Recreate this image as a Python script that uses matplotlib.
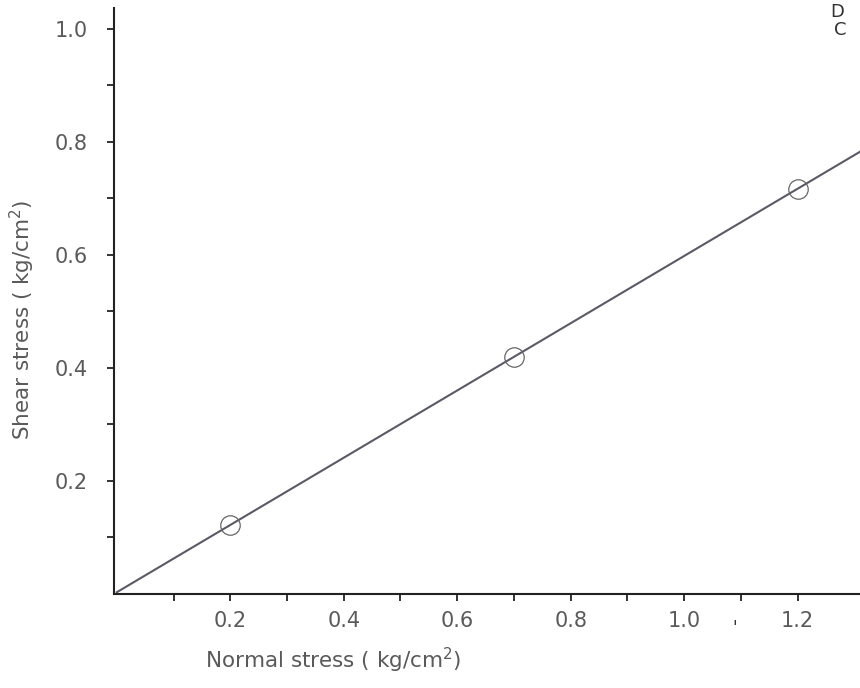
#!/usr/bin/env python3
"""Shear stress vs normal stress (direct shear test) with linear fit."""

import matplotlib
matplotlib.use("Agg")
import matplotlib.pyplot as plt
import matplotlib.ticker as ticker
import numpy as np

# data
normal_stress = [0.2, 0.7, 1.2]
shear_stress = [0.122, 0.42, 0.717]
x_tick_labels = ["0.2", "0.4", "0.6", "0.8", "1.0", "1.2"]
y_tick_labels = ["0.2", "0.4", "0.6", "0.8", "1.0"]

TEXT = "#5a5a5a"
LINE = "#5a5a66"

plt.rcParams["font.family"] = ["DejaVu Sans"]

fig = plt.figure(figsize=(8.6, 6.88), dpi=100)
ax = fig.add_axes([114 / 860, 94 / 688, 1 - 114 / 860, (594 - 8) / 688])

slope, intercept = np.polyfit(normal_stress, shear_stress, 1)
x_max = 1.31
xs = np.array([0.0, x_max])
ax.plot(xs, intercept + slope * xs, color=LINE, linewidth=1.5, zorder=2)
ax.plot(normal_stress, shear_stress, linestyle="none", marker="o", markersize=14,
        markerfacecolor="none", markeredgecolor="#666666", markeredgewidth=0.9, zorder=3)

ax.set_xlim(-0.005, x_max)
ax.set_ylim(0, 1.037)

ax.xaxis.set_major_locator(ticker.FixedLocator([0.2, 0.4, 0.6, 0.8, 1.0, 1.2]))
ax.xaxis.set_major_formatter(ticker.FixedFormatter(x_tick_labels))
ax.xaxis.set_minor_locator(ticker.FixedLocator([0.1, 0.3, 0.5, 0.7, 0.9, 1.1]))
ax.yaxis.set_major_locator(ticker.FixedLocator([0.2, 0.4, 0.6, 0.8, 1.0]))
ax.yaxis.set_major_formatter(ticker.FixedFormatter(y_tick_labels))
ax.yaxis.set_minor_locator(ticker.FixedLocator([0.1, 0.3, 0.5, 0.7, 0.9]))

ax.tick_params(which="both", direction="out", length=5, width=1.3, color="#222222")
ax.tick_params(axis="x", which="major", labelsize=15, labelcolor=TEXT, pad=7)
ax.tick_params(axis="y", which="major", labelsize=15, labelcolor=TEXT, pad=14)

for side in ("top", "right"):
    ax.spines[side].set_visible(False)
for side in ("left", "bottom"):
    ax.spines[side].set_linewidth(1.5)
    ax.spines[side].set_color("#222222")

ax.set_xlabel("Normal stress ( kg/cm$^2$)", fontsize=15.5, color=TEXT)
ax.xaxis.set_label_coords((333 - 114) / (860 - 114), -0.113)
ax.xaxis.label.set_va("center")
ax.set_ylabel("Shear stress ( kg/cm$^2$)", fontsize=15.5, color=TEXT)
ax.yaxis.set_label_coords(-(114 - 22) / (860 - 114), (594 - 320) / 586)
ax.yaxis.label.set_va("center")

# partial text at the top right edge of the scan
fig.text(830 / 860, 1 - 12 / 688, "D", fontsize=13, color="#333333", va="center")
fig.text(834 / 860, 1 - 30 / 688, "C", fontsize=13, color="#333333", va="center")
fig.text(735 / 860, 1 - 628 / 688, "'", fontsize=12, color="#333333", ha="center", va="center")

fig.savefig("out.png", dpi=100)
plt.close(fig)
